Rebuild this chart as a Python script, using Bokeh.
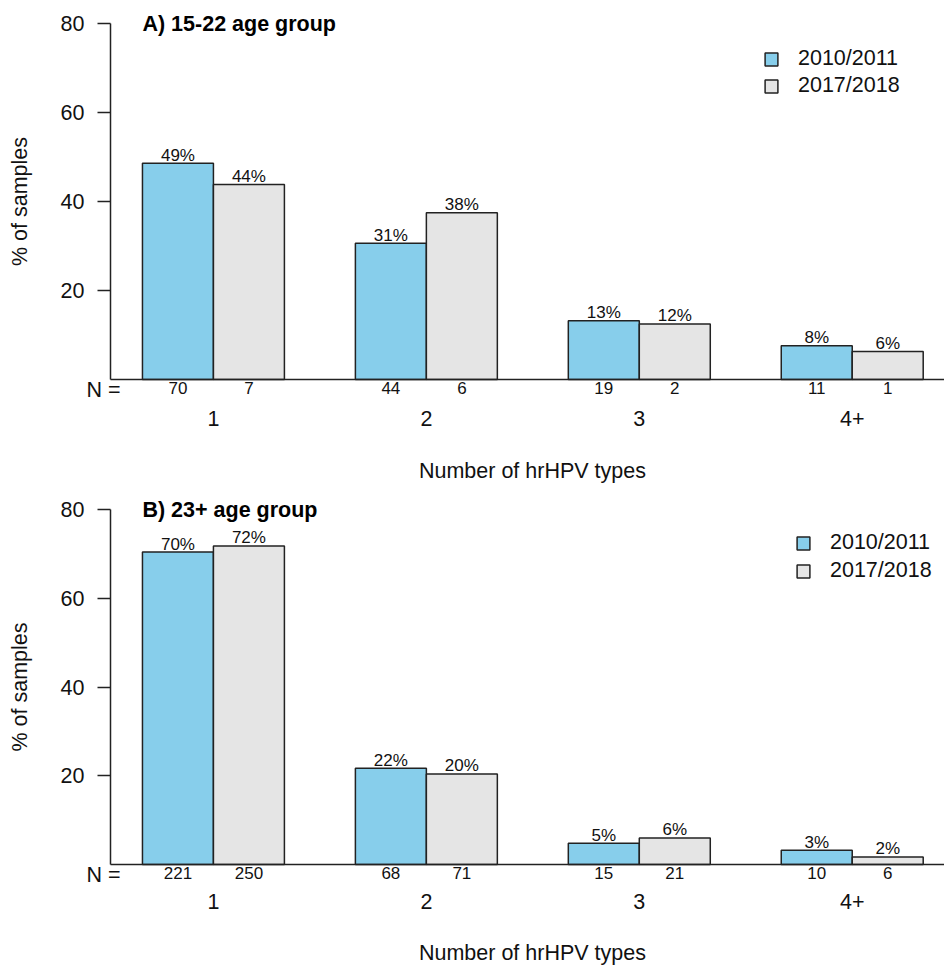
import math
from bokeh.plotting import figure
from bokeh.models import (ColumnDataSource, Range1d, LinearAxis, FixedTicker,
                          Legend, LegendItem)
from bokeh.layouts import column
from bokeh.embed import file_html
from bokeh.resources import INLINE
from bokeh.core.properties import value

# ---------------- data ----------------
groups = ["1", "2", "3", "4+"]
series = ["2010/2011", "2017/2018"]
y_ticks = [20, 40, 60, 80]

a_title = "A) 15-22 age group"
a_pct_2010 = [48.6, 30.6, 13.2, 7.6]
a_pct_2017 = [43.8, 37.5, 12.5, 6.3]
a_lbl_2010 = ["49%", "31%", "13%", "8%"]
a_lbl_2017 = ["44%", "38%", "12%", "6%"]
a_n_2010 = [70, 44, 19, 11]
a_n_2017 = [7, 6, 2, 1]

b_title = "B) 23+ age group"
b_pct_2010 = [70.4, 21.7, 4.8, 3.2]
b_pct_2017 = [71.8, 20.4, 6.0, 1.7]
b_lbl_2010 = ["70%", "22%", "5%", "3%"]
b_lbl_2017 = ["72%", "20%", "6%", "2%"]
b_n_2010 = [221, 68, 15, 10]
b_n_2017 = [250, 71, 21, 6]

x_title = "Number of hrHPV types"
y_title = "% of samples"
n_prefix = "N ="

# ---------------- style ----------------
FONT = "Liberation Sans"
GFONT = value(FONT)
BIG = "21.5px"
SMALL = "17px"
BLUE = "#87CEEB"
GRAY = "#E5E5E5"
EDGE = "#222222"
TXT = "#111111"

X0, X1 = 0.55, 12.30          # plotting region (R-style user coordinates)


def make_panel(title, p10, p17, l10, l17, n10, n17, height, y_lo, y_hi,
               legend_xy, spacing, n_y, g_standoff, xt_y):
    centers = [2 + 3 * i for i in range(len(groups))]
    xs10 = [c - 0.5 for c in centers]
    xs17 = [c + 0.5 for c in centers]

    p = figure(width=944, height=height,
               x_range=Range1d(-1.0, X1), y_range=Range1d(y_lo, y_hi),
               output_backend="svg", toolbar_location=None,
               x_axis_type=None, y_axis_type=None,
               min_border_left=0, min_border_right=0,
               min_border_top=0, min_border_bottom=0)
    p.grid.visible = False
    p.outline_line_color = None
    p.background_fill_color = "white"
    p.border_fill_color = "white"

    s10 = ColumnDataSource(dict(x=xs10, top=p10, lbl=l10))
    s17 = ColumnDataSource(dict(x=xs17, top=p17, lbl=l17))

    r10 = p.vbar(x="x", top="top", bottom=0, width=1.0, source=s10,
                 fill_color=BLUE, line_color=EDGE, line_width=1.5)
    r17 = p.vbar(x="x", top="top", bottom=0, width=1.0, source=s17,
                 fill_color=GRAY, line_color=EDGE, line_width=1.5)

    for s in (s10, s17):
        p.text(x="x", y="top", text="lbl", source=s, text_align="center",
               text_baseline="middle", y_offset=-8, text_font=GFONT,
               text_font_size=SMALL, text_color=TXT)

    # y axis, drawn at the left edge of the plotting region
    yax = LinearAxis(ticker=FixedTicker(ticks=y_ticks), bounds=(0, 80),
                     fixed_location=X0)
    yax.axis_line_color = EDGE
    yax.axis_line_width = 1.5
    yax.major_tick_line_color = EDGE
    yax.major_tick_line_width = 1.5
    yax.major_tick_out = 13
    yax.major_tick_in = 0
    yax.minor_tick_line_color = None
    yax.major_label_standoff = 13
    yax.major_label_text_font = FONT
    yax.major_label_text_font_size = BIG
    yax.major_label_text_color = TXT
    p.add_layout(yax, "left")

    # N row (its axis line is the baseline)
    nticks = xs10 + xs17
    nlabels = [str(n) for n in n10] + [str(n) for n in n17]
    nax = LinearAxis(ticker=FixedTicker(ticks=nticks), bounds=(X0, X1),
                     fixed_location=0,
                     major_label_overrides={t: l for t, l in zip(nticks, nlabels)})
    nax.axis_line_color = EDGE
    nax.axis_line_width = 1.5
    nax.major_tick_line_color = None
    nax.minor_tick_line_color = None
    nax.major_tick_out = 0
    nax.major_tick_in = 0
    nax.major_label_standoff = 2
    nax.major_label_text_font = FONT
    nax.major_label_text_font_size = SMALL
    nax.major_label_text_color = TXT
    p.add_layout(nax, "below")

    # group row
    gax = LinearAxis(ticker=FixedTicker(ticks=centers), bounds=(X0, X1),
                     fixed_location=0,
                     major_label_overrides={c: g for c, g in zip(centers, groups)})
    gax.axis_line_color = None
    gax.major_tick_line_color = None
    gax.minor_tick_line_color = None
    gax.major_tick_out = 0
    gax.major_tick_in = 0
    gax.major_label_standoff = g_standoff
    gax.major_label_text_font = FONT
    gax.major_label_text_font_size = BIG
    gax.major_label_text_color = TXT
    p.add_layout(gax, "below")

    # "N =" row label
    p.text(x=[0.212], y=[n_y], text=[n_prefix], text_font=GFONT,
           text_font_size=BIG, text_color=TXT,
           text_baseline="middle", text_align="left")

    # panel title
    p.text(x=[1.0], y=[80], text=[title], text_font=GFONT,
           text_font_size=BIG, text_font_style="bold",
           text_color="#000000", text_baseline="middle", text_align="left")

    # axis titles
    p.text(x=[-0.72], y=[40], text=[y_title], angle=math.pi / 2,
           text_font=GFONT, text_font_size=BIG, text_color=TXT,
           text_baseline="middle", text_align="center")
    p.text(x=[(X0 + 12.44) / 2], y=[xt_y], text=[x_title],
           text_font=GFONT, text_font_size=BIG, text_color=TXT,
           text_baseline="middle", text_align="center")

    leg = Legend(items=[LegendItem(label=series[0], renderers=[r10]),
                        LegendItem(label=series[1], renderers=[r17])],
                 location=legend_xy, orientation="vertical",
                 padding=0, margin=0, spacing=spacing,
                 glyph_width=16, glyph_height=16, label_height=24,
                 label_standoff=19, label_text_font=FONT,
                 label_text_font_size=BIG, label_text_color=TXT,
                 border_line_color=None, background_fill_alpha=0)
    p.add_layout(leg)
    return p


# panel A: 80 -> 23px, 0 -> 379px, figure 494px tall
pa = make_panel(a_title, a_pct_2010, a_pct_2017, a_lbl_2010, a_lbl_2017,
                a_n_2010, a_n_2017, height=494,
                y_lo=-(494 - 379) / 4.45, y_hi=80 + 23 / 4.45,
                legend_xy=(763, 396), spacing=2,
                n_y=-2.25, g_standoff=31, xt_y=-20.6)
# panel B: 80 -> 15px, 0 -> 370px, figure 472px tall
pb = make_panel(b_title, b_pct_2010, b_pct_2017, b_lbl_2010, b_lbl_2017,
                b_n_2010, b_n_2017, height=472,
                y_lo=-(472 - 370) / 4.4375, y_hi=80 + 15 / 4.4375,
                legend_xy=(795, 383), spacing=3,
                n_y=-2.3, g_standoff=29, xt_y=-19.9)

layout = column(pa, pb, spacing=0)
open("out.html", "w").write(file_html(layout, INLINE))
